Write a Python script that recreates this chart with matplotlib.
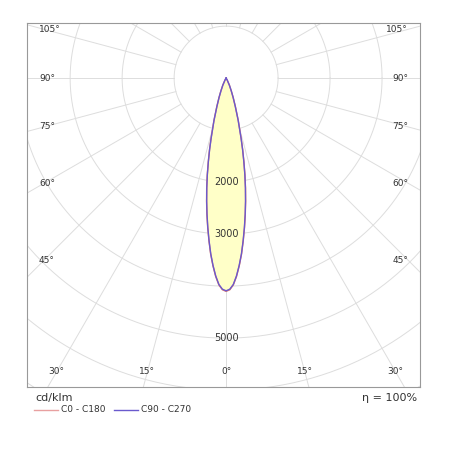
import numpy as np
import matplotlib
matplotlib.use("Agg")
import matplotlib.pyplot as plt

angles = [0, 1, 2, 3, 4, 5, 6, 7, 8, 9, 10, 11, 12, 13, 14, 16, 18, 20, 22, 25, 30, 40, 90]
c0_c180 = [4100, 4070, 3980, 3820, 3620, 3400, 3150, 2900, 2650, 2400, 2150, 1900, 1650, 1420, 1200, 850, 580, 400, 270, 150, 40, 0, 0]
c90_c270 = [4090, 4060, 3970, 3810, 3610, 3390, 3140, 2890, 2640, 2390, 2140, 1890, 1640, 1410, 1190, 840, 570, 395, 265, 148, 40, 0, 0]
ring_labels = [2000, 3000, 5000]
ang_side = [105, 90, 75, 60, 45]
ang_bottom = [30, 15, 0]

fig = plt.figure(figsize=(4.5, 4.5), dpi=100)
ax = fig.add_axes([27/450, 1-387/450, 393/450, 364/450])
xl, xr, yt, yb = -3830, 3730, 1060, -5940
ax.set_xlim(xl, xr); ax.set_ylim(yb, yt)
ax.set_xticks([]); ax.set_yticks([])
for s in ax.spines.values():
    s.set_color('#999999'); s.set_linewidth(0.8)

gc = '#dddddd'
t = np.linspace(0, 2*np.pi, 400)
for r in range(1000, 10001, 1000):
    ax.plot(r*np.cos(t), r*np.sin(t), color=gc, lw=0.7, zorder=1)
for a in range(-180, 181, 15):
    th = np.radians(a)
    ax.plot([1000*np.sin(th), 12000*np.sin(th)], [-1000*np.cos(th), -12000*np.cos(th)], color=gc, lw=0.7, zorder=1)

def curve(vals):
    th = np.radians(np.array(angles, float))
    v = np.array(vals, float)
    th = np.concatenate([-th[::-1], th[1:]])
    v = np.concatenate([v[::-1], v[1:]])
    return v*np.sin(th), -v*np.cos(th)

x0, y0 = curve(c0_c180)
x9, y9 = curve(c90_c270)
ax.fill(x0, y0, color='#ffffc8', zorder=2)
ax.plot(x0, y0, color='#e07070', lw=1.0, zorder=3)
ax.plot(x9, y9, color='#6a5acd', lw=1.0, zorder=3)

for r in ring_labels:
    ax.text(0, -r, str(r), ha='center', va='center', fontsize=7, color='#333333', zorder=4)

for a in ang_side:
    y = -3500/np.tan(np.radians(a))
    ax.text(xl+230, y, f"{a}°", ha='left', va='center', fontsize=6.5, color='#333333')
    ax.text(xr-230, y, f"{a}°", ha='right', va='center', fontsize=6.5, color='#333333')
for a in ang_bottom:
    x = min(5650*np.tan(np.radians(a)), 3500)
    y = -5650
    ax.text(-x, y, f"{a}°", ha='center', va='center', fontsize=6.5, color='#333333')
    if a:
        ax.text(x, y, f"{a}°", ha='center', va='center', fontsize=6.5, color='#333333')

fig.text(35/450, 1-398/450, "cd/klm", fontsize=8, color='#333333', va='center')
fig.text(417/450, 1-398/450, "η = 100%", fontsize=8, color='#333333', va='center', ha='right')
fig.lines.append(plt.Line2D([34/450, 58/450], [1-410/450]*2, color='#e8a0a0', lw=1, transform=fig.transFigure))
fig.text(61/450, 1-410/450, "C0 - C180", fontsize=6.5, color='#333333', va='center')
fig.lines.append(plt.Line2D([114/450, 138/450], [1-410/450]*2, color='#6a5acd', lw=1, transform=fig.transFigure))
fig.text(141/450, 1-410/450, "C90 - C270", fontsize=6.5, color='#333333', va='center')

fig.savefig("out.png", dpi=100)
